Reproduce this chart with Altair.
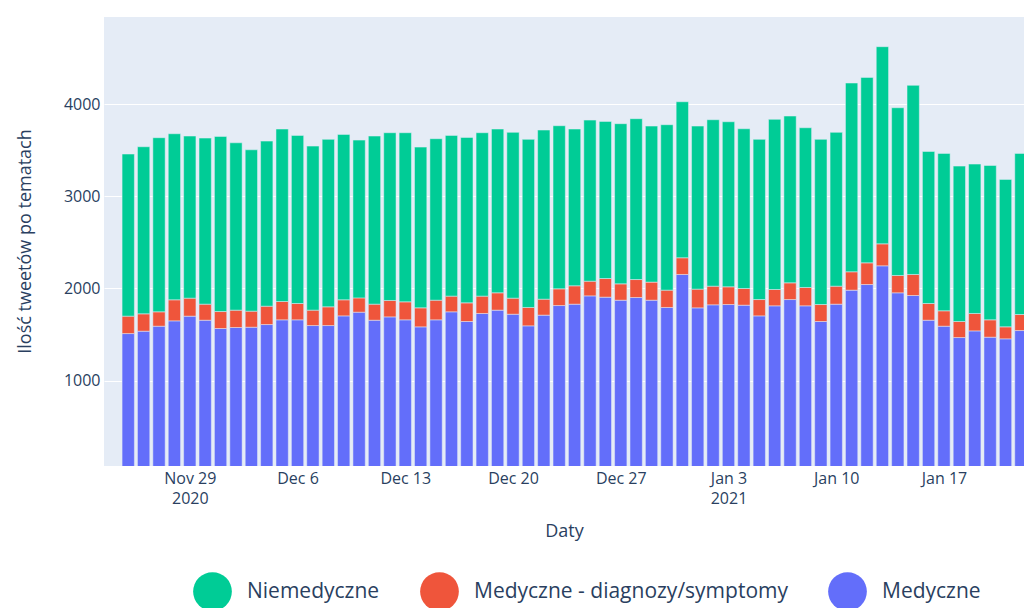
import altair as alt
import pandas as pd

# 59 daily bars, 2020-11-25 .. 2021-01-22
dates = pd.date_range("2020-11-25", "2021-01-22", freq="D").strftime("%Y-%m-%d").tolist()

medyczne = [1511, 1537, 1591, 1649, 1700, 1656, 1566, 1577, 1580, 1609, 1660, 1660,
            1598, 1598, 1703, 1743, 1656, 1692, 1660, 1584, 1660, 1747, 1642, 1729,
            1765, 1721, 1595, 1711, 1815, 1830, 1920, 1906, 1873, 1902, 1873, 1794,
            2152, 1790, 1823, 1826, 1819, 1703, 1812, 1880, 1812, 1642, 1830, 1982,
            2043, 2246, 1953, 1924, 1656, 1591, 1468, 1540, 1472, 1454, 1544]
diagnozy = [189, 188, 156, 228, 195, 174, 184, 188, 174, 199, 199, 177,
            167, 203, 174, 155, 174, 178, 195, 206, 213, 170, 202, 188,
            188, 174, 199, 173, 181, 199, 159, 202, 177, 195, 196, 188,
            181, 203, 202, 192, 181, 177, 177, 181, 199, 184, 195, 199,
            235, 238, 188, 228, 181, 167, 174, 189, 188, 130, 174]
niemedyczne = [1758, 1812, 1888, 1801, 1758, 1801, 1899, 1815, 1750, 1790, 1870, 1823,
               1779, 1816, 1794, 1711, 1823, 1819, 1834, 1743, 1751, 1743, 1794, 1772,
               1776, 1798, 1823, 1834, 1769, 1700, 1747, 1704, 1737, 1744, 1692, 1794,
               1692, 1768, 1805, 1790, 1732, 1737, 1845, 1809, 1732, 1791, 1668, 2047,
               2011, 2138, 1819, 2051, 1649, 1707, 1685, 1620, 1674, 1599, 1747]

series_names = ["Niemedyczne", "Medyczne - diagnozy/symptomy", "Medyczne"]
series_colors = ["#00cc96", "#EF553B", "#636efa"]
stack_order = {"Medyczne": 0, "Medyczne - diagnozy/symptomy": 1, "Niemedyczne": 2}

tick_dates = ["2020-11-29", "2020-12-06", "2020-12-13", "2020-12-20",
              "2020-12-27", "2021-01-03", "2021-01-10", "2021-01-17"]
y_ticks = [1000, 2000, 3000, 4000]

rows = []
for i, d in enumerate(dates):
    for name, vals in (("Medyczne", medyczne),
                       ("Medyczne - diagnozy/symptomy", diagnozy),
                       ("Niemedyczne", niemedyczne)):
        rows.append({"date": d, "series": name, "value": vals[i], "order": stack_order[name]})
df = pd.DataFrame(rows)


def dt(s, hours=0, minutes=0):
    y, m, d = (int(p) for p in s.split("-"))
    return alt.DateTime(year=y, month=m, date=d, hours=hours, minutes=minutes, utc=True)


font = "Open Sans"
text_color = "#2a3f5f"

label_expr = (
    "(utcmonth(datum.value) == 10 && utcdate(datum.value) == 29) || "
    "(utcmonth(datum.value) == 0 && utcdate(datum.value) <= 7) ? "
    "[utcFormat(datum.value, '%b %-d'), utcFormat(datum.value, '%Y')] : "
    "utcFormat(datum.value, '%b %-d')"
)

chart = (
    alt.Chart(df)
    .transform_calculate(
        x0="time(toDate(datum.date)) - 0.4 * 86400000",
        x1="time(toDate(datum.date)) + 0.4 * 86400000",
    )
    .transform_stack(
        stack="value",
        groupby=["date"],
        as_=["v0", "v1"],
        sort=[alt.SortField("order", order="ascending")],
    )
    .mark_bar(clip=True, stroke="#E5ECF6", strokeWidth=0.5)
    .encode(
        x=alt.X(
            "x0:T",
            scale=alt.Scale(type="utc", domain=[dt("2020-11-23", 10, 13), dt("2021-01-22", 4, 48)]),
            axis=alt.Axis(
                title="Daty",
                values=[dt(s) for s in tick_dates],
                labelExpr=label_expr,
                labelFont=font,
                labelFontSize=16,
                labelColor=text_color,
                labelLineHeight=20,
                labelPadding=4,
                labelBaseline="top",
                ticks=False,
                domain=False,
                grid=False,
                titleFont=font,
                titleFontSize=18,
                titleFontWeight="normal",
                titleColor=text_color,
                titleY=65,
                titleBaseline="middle",
            ),
        ),
        x2="x1:T",
        y=alt.Y(
            "v0:Q",
            scale=alt.Scale(domain=[75, 4944], nice=False, zero=False),
            axis=alt.Axis(
                title="Ilość tweetów po tematach",
                values=y_ticks,
                format="d",
                labelFont=font,
                labelFontSize=16,
                labelColor=text_color,
                labelPadding=4,
                ticks=False,
                domain=False,
                grid=True,
                gridColor="white",
                gridWidth=1,
                titleFont=font,
                titleFontSize=18,
                titleFontWeight="normal",
                titleColor=text_color,
                titleX=-79,
                titleY=224,
                titleAngle=-90,
                titleAlign="center",
                titleBaseline="middle",
            ),
        ),
        y2="v1:Q",
        color=alt.Color(
            "series:N",
            scale=alt.Scale(domain=series_names, range=series_colors),
            legend=alt.Legend(
                title=None,
                orient="none",
                direction="horizontal",
                legendX=89,
                legendY=555,
                symbolType="circle",
                symbolSize=1500,
                symbolStrokeWidth=0,
                symbolOpacity=1,
                labelFont=font,
                labelFontSize=21,
                labelColor=text_color,
                labelOffset=15,
                columnPadding=40,
                labelLimit=400,
                padding=0,
            ),
        ),
    )
    .properties(
        width=920,
        height=449,
        autosize=alt.AutoSizeParams(type="none"),
        padding={"left": 96, "top": 9, "right": 0, "bottom": 142},
        background="white",
    )
    .configure_view(fill="#E5ECF6", stroke=None)
)

chart.save("out.html", embed_options={"renderer": "svg", "actions": False})
